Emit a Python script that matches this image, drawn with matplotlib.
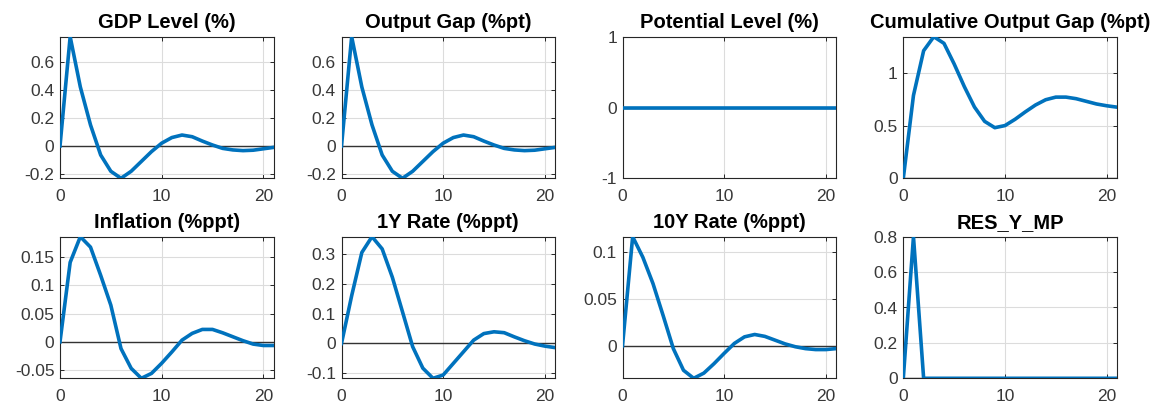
import matplotlib
matplotlib.use("Agg")
import matplotlib.pyplot as plt

plt.rcParams['font.family'] = ['Liberation Sans', 'DejaVu Sans']

t = list(range(22))

titles = ["GDP Level (%)", "Output Gap (%pt)", "Potential Level (%)",
          "Cumulative Output Gap (%pt)", "Inflation (%ppt)", "1Y Rate (%ppt)",
          "10Y Rate (%ppt)", "RES_Y_MP"]

gdp = [0, 0.778, 0.42, 0.15, -0.064, -0.18, -0.23, -0.18, -0.11, -0.04, 0.02,
       0.06, 0.078, 0.066, 0.035, 0.007, -0.017, -0.028, -0.033, -0.03, -0.02, -0.01]
gap = [0, 0.778, 0.42, 0.15, -0.064, -0.18, -0.23, -0.18, -0.11, -0.04, 0.02,
       0.06, 0.078, 0.066, 0.035, 0.007, -0.017, -0.028, -0.033, -0.03, -0.02, -0.01]
potential = [0.0] * 22
cum_gap = [0, 0.786, 1.21, 1.343, 1.28, 1.085, 0.87, 0.676, 0.54, 0.48, 0.50,
           0.56, 0.63, 0.695, 0.745, 0.77, 0.77, 0.755, 0.73, 0.705, 0.688, 0.675]
inflation = [0, 0.141, 0.1865, 0.168, 0.118, 0.065, -0.012, -0.047, -0.0647, -0.056, -0.038,
             -0.018, 0.003, 0.015, 0.022, 0.022, 0.016, 0.009, 0.002, -0.004, -0.0065, -0.0065]
rate_1y = [0, 0.16, 0.305, 0.358, 0.317, 0.222, 0.106, -0.011, -0.083, -0.117, -0.106,
           -0.067, -0.028, 0.011, 0.033, 0.039, 0.036, 0.022, 0.009, -0.002, -0.009, -0.014]
rate_10y = [0, 0.1158, 0.094, 0.066, 0.032, -0.003, -0.026, -0.0345, -0.029, -0.019, -0.008,
            0.0025, 0.0095, 0.012, 0.010, 0.006, 0.002, -0.001, -0.003, -0.004, -0.004, -0.003]
res_y_mp = [0, 0.8] + [0.0] * 20

series = [gdp, gap, potential, cum_gap, inflation, rate_1y, rate_10y, res_y_mp]

yticks = [[-0.2, 0, 0.2, 0.4, 0.6], [-0.2, 0, 0.2, 0.4, 0.6], [-1, 0, 1], [0, 0.5, 1],
          [-0.05, 0, 0.05, 0.1, 0.15], [-0.1, 0, 0.1, 0.2, 0.3], [0, 0.05, 0.1],
          [0, 0.2, 0.4, 0.6, 0.8]]
yticklabels = [["-0.2", "0", "0.2", "0.4", "0.6"], ["-0.2", "0", "0.2", "0.4", "0.6"],
               ["-1", "0", "1"], ["0", "0.5", "1"],
               ["-0.05", "0", "0.05", "0.1", "0.15"], ["-0.1", "0", "0.1", "0.2", "0.3"],
               ["0", "0.05", "0.1"], ["0", "0.2", "0.4", "0.6", "0.8"]]

W, H = 1165, 412
fig = plt.figure(figsize=(W / 100, H / 100), dpi=100)

lefts = [60, 341.5, 622.5, 903.3]
tops = [36.7, 236.7]
aw, ah = 213.5, 141.6

grey = "#262626"
for i, y in enumerate(series):
    r, c = divmod(i, 4)
    ax = fig.add_axes([lefts[c] / W, (H - tops[r] - ah) / H, aw / W, ah / H])
    ax.axhline(0, color="#333333", lw=1.0, zorder=2)
    ax.plot(t, y, color="#0072BD", lw=2.6, zorder=3, solid_joinstyle="round")
    ax.set_xlim(0, 21)
    if i == 2:
        ax.set_ylim(-1, 1)
    else:
        ax.set_ylim(min(y), max(y))
    ax.set_xticks([0, 10, 20])
    ax.set_yticks(yticks[i])
    ax.set_yticklabels(yticklabels[i])
    ax.grid(True, color="#dcdcdc", lw=0.8)
    ax.set_axisbelow(True)
    ax.tick_params(direction="in", length=3, width=0.7, colors=grey,
                   labelsize=12.5, labelcolor="#383838", top=True, right=True)
    ax.tick_params(axis="x", pad=8)
    ax.tick_params(axis="y", pad=4)
    for s in ax.spines.values():
        s.set_color(grey)
        s.set_linewidth(0.8)
    ax.set_title(titles[i], fontsize=14.5, fontweight="bold", color="black", pad=6.5)

fig.savefig("out.png", dpi=100)
